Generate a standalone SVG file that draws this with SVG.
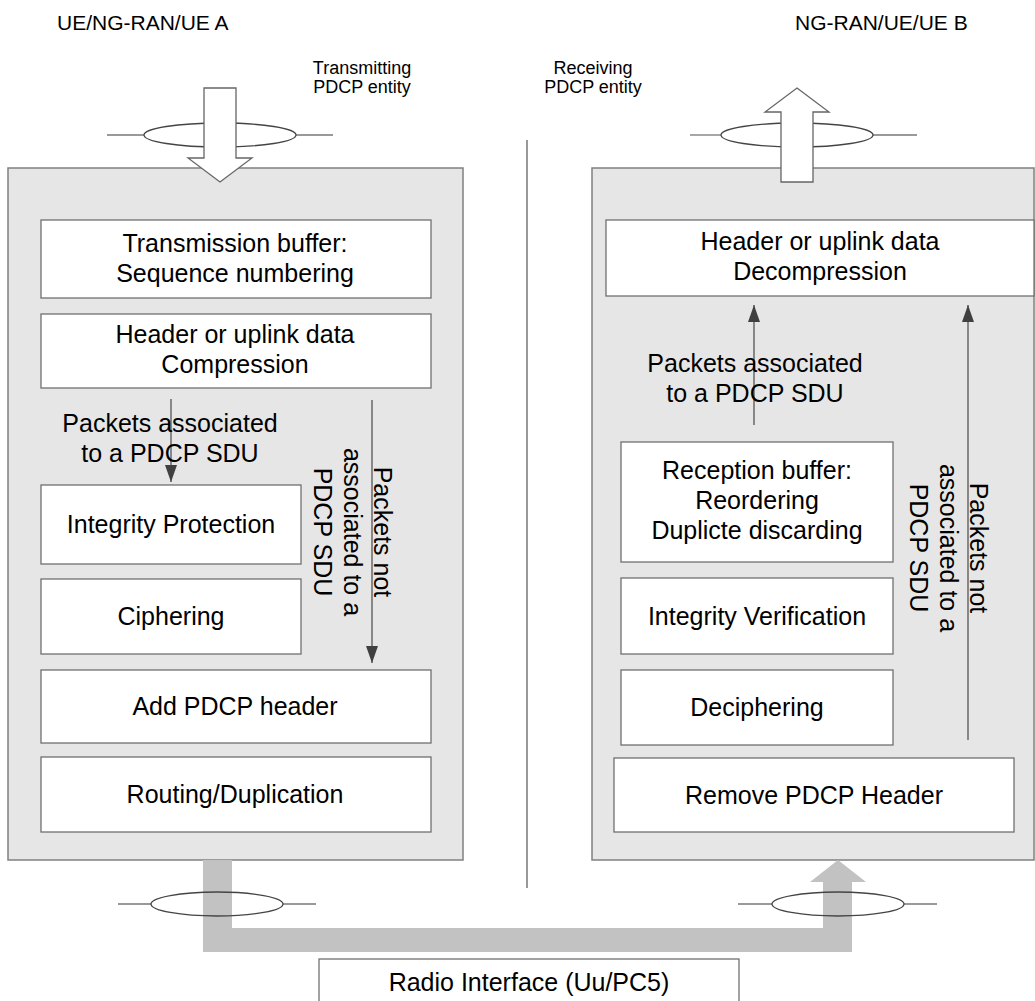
<svg xmlns="http://www.w3.org/2000/svg" width="1035" height="1001" viewBox="0 0 1035 1001">
<style>
text{font-family:"Liberation Sans",Arial,sans-serif;fill:#000}
.t{font-size:25px;text-anchor:middle}
.h{font-size:21px}
.s{font-size:18px;text-anchor:middle}
.outer{fill:#e6e6e6;stroke:#808080;stroke-width:1.5}
.box{fill:#fff;stroke:#707070;stroke-width:1.3}
.bigarrow{fill:#fff;stroke:#666;stroke-width:1.3}
.ring{fill:none;stroke:#444;stroke-width:1.3}
.tick{stroke:#777;stroke-width:1.3}
.flow{stroke:#555;stroke-width:1.3;fill:none;marker-end:url(#ah)}
</style>
<defs>
<marker id="ah" viewBox="0 0 17 12" refX="17" refY="6" markerWidth="17" markerHeight="12" markerUnits="userSpaceOnUse" orient="auto">
<path d="M0,0 L17,6 L0,12 z" fill="#404040"/>
</marker>
</defs>
<rect width="1035" height="1001" fill="#fff"/>

<text class="h" x="57" y="30">UE/NG-RAN/UE A</text>
<text class="h" x="795" y="30">NG-RAN/UE/UE B</text>
<text class="s" x="362" y="74">Transmitting</text>
<text class="s" x="362" y="93">PDCP  entity</text>
<text class="s" x="593" y="74">Receiving</text>
<text class="s" x="593" y="93">PDCP  entity</text>

<line x1="527" y1="140" x2="527" y2="888" stroke="#555" stroke-width="1.2"/>

<g id="tx-entity">
<rect class="outer" x="8" y="168" width="455" height="692"/>
</g>
<g id="rx-entity">
<rect class="outer" x="592" y="168" width="442" height="692"/>
</g>

<g id="top-left-sap">
<line class="tick" x1="107" y1="135" x2="144" y2="135"/>
<line class="tick" x1="296" y1="135" x2="333" y2="135"/>
<ellipse class="ring" cx="220" cy="135" rx="76" ry="12"/>
<polygon class="bigarrow" points="204,88 236,88 236,158 252,158 220,182 188,158 204,158"/>
</g>
<g id="top-right-sap">
<line class="tick" x1="690" y1="135" x2="721" y2="135"/>
<line class="tick" x1="873" y1="135" x2="917" y2="135"/>
<ellipse class="ring" cx="797" cy="135" rx="76" ry="12"/>
<polygon class="bigarrow" points="797,88 829,112 813,112 813,182 781,182 781,112 765,112"/>
</g>

<g id="tx-buffer"><rect class="box" x="41" y="220" width="390" height="78"/>
<text class="t" x="235" y="252">Transmission buffer:</text><text class="t" x="235" y="282">Sequence numbering</text></g>
<g id="tx-compression"><rect class="box" x="41" y="314" width="390" height="74"/>
<text class="t" x="235" y="343">Header or uplink data</text><text class="t" x="235" y="373">Compression</text></g>
<g id="tx-integrity"><rect class="box" x="41" y="485" width="260" height="79"/>
<text class="t" x="171" y="533">Integrity Protection</text></g>
<g id="tx-ciphering"><rect class="box" x="41" y="579" width="260" height="75"/>
<text class="t" x="171" y="625">Ciphering</text></g>
<g id="tx-header"><rect class="box" x="41" y="670" width="390" height="73"/>
<text class="t" x="235" y="715">Add PDCP header</text></g>
<g id="tx-routing"><rect class="box" x="41" y="757" width="390" height="75"/>
<text class="t" x="235" y="803">Routing/Duplication</text></g>

<g id="rx-decompression"><rect class="box" x="606" y="220" width="428" height="76"/>
<text class="t" x="820" y="250">Header or uplink data</text><text class="t" x="820" y="280">Decompression</text></g>
<g id="rx-buffer"><rect class="box" x="621" y="442" width="272" height="120"/>
<text class="t" x="757" y="479">Reception buffer:</text><text class="t" x="757" y="509">Reordering</text><text class="t" x="757" y="539">Duplicte discarding</text></g>
<g id="rx-integrity"><rect class="box" x="621" y="578" width="272" height="76"/>
<text class="t" x="757" y="625">Integrity Verification</text></g>
<g id="rx-deciphering"><rect class="box" x="621" y="670" width="272" height="75"/>
<text class="t" x="757" y="716">Deciphering</text></g>
<g id="rx-remove"><rect class="box" x="614" y="758" width="400" height="74"/>
<text class="t" x="814" y="804">Remove PDCP Header</text></g>

<g id="connectors">
<line class="flow" x1="171" y1="399" x2="171" y2="482"/>
<line class="flow" x1="372" y1="400" x2="372" y2="663"/>
<line class="flow" x1="754" y1="425" x2="754" y2="305"/>
<line class="flow" x1="968" y1="740" x2="968" y2="305"/>
<path d="M203,860 L232,860 L232,928 L823,928 L823,882 L810,882 L838,860 L866,882 L852,882 L852,952 L203,952 Z" fill="#c2c2c2"/>
</g>

<g id="labels">
<text class="t" x="170" y="432">Packets associated</text>
<text class="t" x="170" y="462">to a PDCP SDU</text>
<text class="t" x="755" y="372">Packets associated</text>
<text class="t" x="755" y="402">to a PDCP SDU</text>
<text class="t" transform="translate(374,532) rotate(90)">Packets not</text>
<text class="t" transform="translate(344,532) rotate(90)">associated to a</text>
<text class="t" transform="translate(314,532) rotate(90)">PDCP SDU</text>
<text class="t" transform="translate(970,548) rotate(90)">Packets not</text>
<text class="t" transform="translate(940,548) rotate(90)">associated to a</text>
<text class="t" transform="translate(910,548) rotate(90)">PDCP SDU</text>
</g>

<g id="bottom-left-sap">
<line class="tick" x1="118" y1="904" x2="151" y2="904"/>
<line class="tick" x1="283" y1="904" x2="316" y2="904"/>
<ellipse class="ring" cx="217" cy="904" rx="66" ry="12"/>
</g>
<g id="bottom-right-sap">
<line class="tick" x1="738" y1="904" x2="772" y2="904"/>
<line class="tick" x1="904" y1="904" x2="937" y2="904"/>
<ellipse class="ring" cx="838" cy="904" rx="66" ry="12"/>
</g>

<g id="radio-interface">
<rect class="box" x="319" y="959" width="420" height="50" stroke="#808080"/>
<text class="t" x="529" y="991">Radio Interface (Uu/PC5)</text>
</g>
</svg>
